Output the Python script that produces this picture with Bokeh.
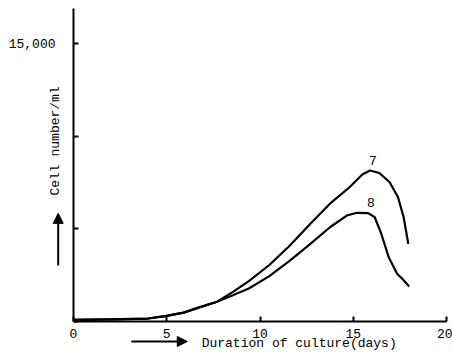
from math import pi
from bokeh.plotting import figure
from bokeh.models import Range1d, FixedTicker, Label, Arrow, NormalHead
from bokeh.embed import file_html
from bokeh.resources import INLINE

# ---- data ----
days_7 = [0, 2, 4, 5, 5.9, 6.8, 7.7, 8.57, 9.4, 10.5, 11.6, 12.7, 13.75, 14.8, 15.5,
          15.9, 16.4, 16.95, 17.4, 17.7, 17.95]
cells_7 = [90, 110, 160, 300, 475, 770, 1070, 1610, 2180, 3050, 4100, 5280, 6360, 7250, 7950,
           8150, 8020, 7520, 6710, 5630, 4190]

days_8 = [0, 2, 4, 5, 5.9, 6.8, 7.7, 8.57, 9.4, 10.5, 11.6, 12.7, 13.75, 14.65, 15.2,
          15.8, 16.15, 16.5, 16.9, 17.35, 17.6, 18.0]
cells_8 = [90, 110, 160, 300, 480, 790, 1070, 1430, 1780, 2450, 3290, 4190, 5090, 5720, 5870,
           5850, 5630, 4740, 3470, 2580, 2330, 1890]

curve_names = ["7", "8"]
curve_label_days = [16.05, 15.95]
x_ticks = [0, 5, 10, 15, 20]
y_ticks = [0, 5000, 10000, 15000]
y_tick_labels = {0: "", 5000: "", 10000: "", 15000: "15,000"}
x_title = "Duration of culture(days)"
y_title = "Cell number/ml"
x_max = 20
y_max = 16900

FONT = "Liberation Mono"

p = figure(width=452, height=355, output_backend="svg", toolbar_location=None,
           x_range=Range1d(-3.914, 20.32), y_range=Range1d(-1836, 17332),
           min_border_left=0, min_border_right=0, min_border_top=0, min_border_bottom=0,
           background_fill_color="white", border_fill_color="white")
p.outline_line_color = None
p.grid.grid_line_color = None

p.xaxis.fixed_location = 0
p.yaxis.fixed_location = 0
p.xaxis.bounds = (0, x_max)
p.yaxis.bounds = (0, y_max)

for ax in (p.xaxis[0], p.yaxis[0]):
    ax.axis_line_width = 2
    ax.axis_line_color = "black"
    ax.major_tick_in = 5
    ax.major_tick_out = 0
    ax.major_tick_line_width = 2
    ax.minor_tick_line_color = None
    ax.major_label_text_font = FONT
    ax.major_label_text_font_size = "13px"
    ax.major_label_text_color = "black"

p.xaxis.ticker = FixedTicker(ticks=x_ticks)
p.yaxis.ticker = FixedTicker(ticks=y_ticks)
p.yaxis.major_label_overrides = y_tick_labels
p.xaxis.major_label_standoff = 8
p.yaxis.major_label_standoff = 18

p.line(days_7, cells_7, line_width=2.2, line_color="black", line_join="round")
p.line(days_8, cells_8, line_width=2.2, line_color="black", line_join="round")

# curve labels above the peaks
for name, lx, ys in zip(curve_names, curve_label_days, (cells_7, cells_8)):
    p.add_layout(Label(x=lx, y=max(ys) + 300, text=name, text_font=FONT,
                       text_font_size="13px", text_align="center", text_baseline="bottom",
                       text_color="black"))

# axis titles
p.add_layout(Label(x=12.1, y=-1200, text=x_title, text_font=FONT, text_font_size="13px",
                   text_align="center", text_baseline="middle", text_color="black"))
p.add_layout(Label(x=-0.97, y=9750, text=y_title, text_font=FONT, text_font_size="13px",
                   text_align="center", text_baseline="middle", angle=pi / 2,
                   text_color="black"))

# arrows next to titles
p.add_layout(Arrow(x_start=3.1, y_start=-1080, x_end=6.1, y_end=-1080, line_width=2,
                   end=NormalHead(size=10, fill_color="black", line_color="black")))
p.add_layout(Arrow(x_start=-0.82, y_start=3030, x_end=-0.82, y_end=5840, line_width=2,
                   end=NormalHead(size=10, fill_color="black", line_color="black")))

open("out.html", "w").write(file_html(p, INLINE))
